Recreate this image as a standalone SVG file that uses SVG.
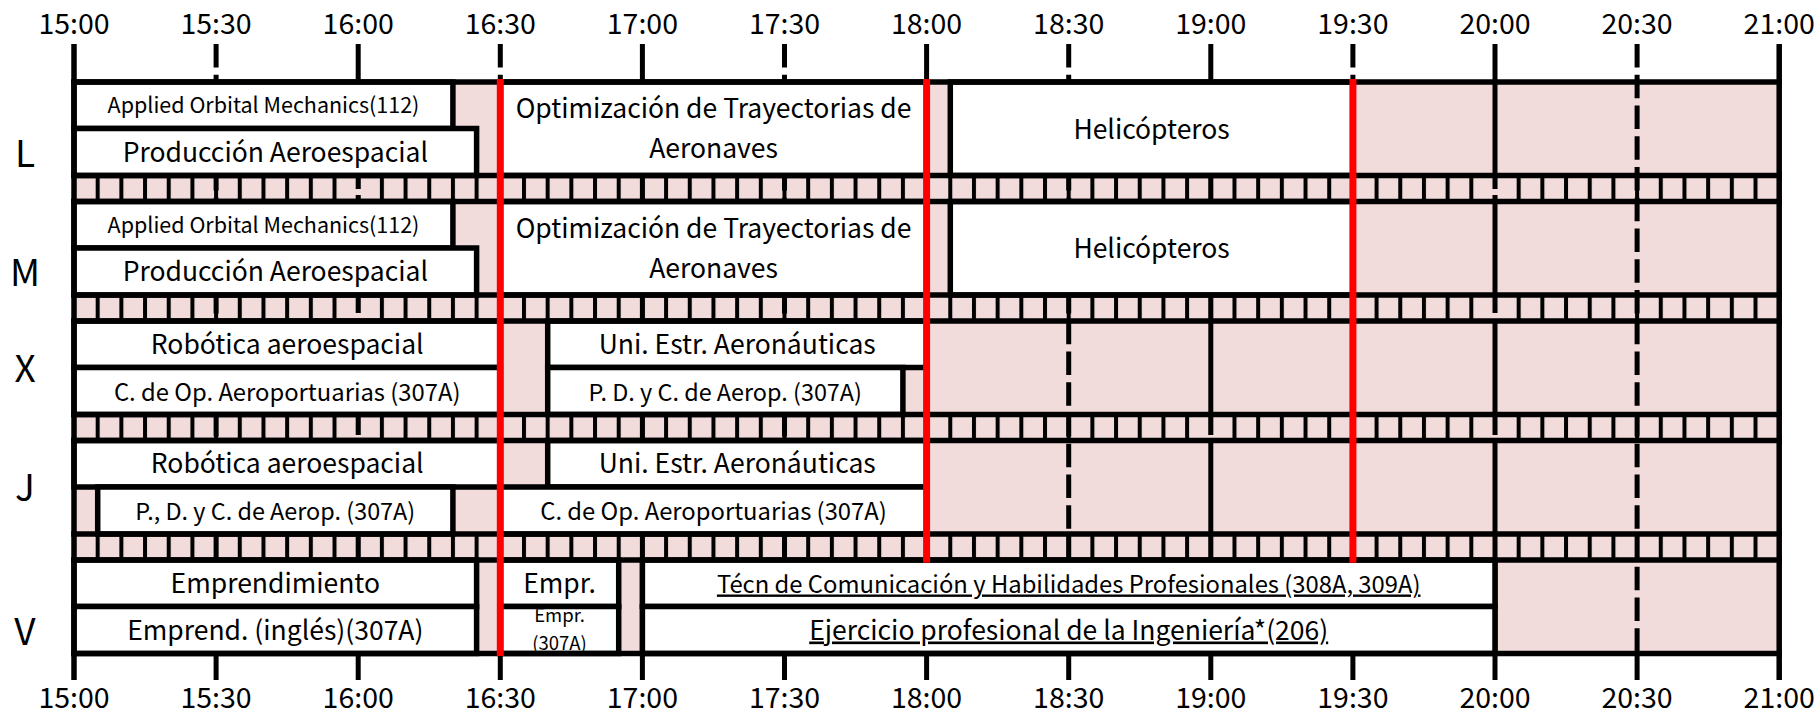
<svg xmlns="http://www.w3.org/2000/svg" width="1815" height="713" viewBox="0 0 1815 713">
<defs>
<style>
text { font-family: "Noto Sans CJK JP", "Noto Sans", sans-serif; fill:#000; text-anchor: middle; }
.t30 { font-size:26.5px; }
.t27 { font-size:23.8px; }
.t26 { font-size:23.4px; }
.t24 { font-size:21.5px; }
.t21 { font-size:18.5px; }
.time { font-size:28.5px; }
.day { font-size:37px; }
.box { fill:#fff; stroke:#000; stroke-width:5.5; }
.hl { stroke:#000; stroke-width:5.5; }
.hr { stroke:#000; stroke-width:5; fill:none; }
.hh { stroke:#000; stroke-width:5; stroke-dasharray:23.5 7.25; fill:none; }
.bd { stroke:#000; stroke-width:5.5; }
.red { stroke:#ff0000; stroke-width:7; }
.gap { fill:#f2dcdb; }
.band { fill:url(#div5); }
.u { text-decoration:underline; }
</style>
<pattern id="div5" patternUnits="userSpaceOnUse" x="72" y="0" width="23.6833" height="713"><rect x="0" y="0" width="4" height="713" fill="#000"/></pattern>
<clipPath id="clipEmpr"><rect x="503" y="609.3" width="113" height="41.4"/></clipPath>
</defs>
<rect x="0" y="0" width="1815" height="713" fill="#fff"/>
<rect id="grid-bg" x="74" y="82" width="1705.2" height="571.5" fill="#f2dcdb"/>
<g id="bands">
<rect class="band" x="74" y="175.5" width="1705.2" height="26"/>
<rect class="band" x="74" y="295" width="1705.2" height="26"/>
<rect class="band" x="74" y="414.5" width="1705.2" height="26"/>
<rect class="band" x="74" y="534" width="1705.2" height="26"/>
</g>
<g id="gridlines">
<path class="hh" d="M216.1 44V653.5M500.3 44V653.5M784.5 44V653.5M1068.7 44V653.5M1352.9 44V653.5M1637.1 44V653.5"/>
<path class="hr" d="M358.2 44V653.5M642.4 44V653.5M926.6 44V653.5M1210.8 44V653.5M1495 44V653.5"/>
<rect class="gap" x="354.7" y="189" width="7" height="6"/>
<rect class="gap" x="354.7" y="313" width="7" height="6"/>
<rect class="gap" x="354.7" y="435" width="7" height="4"/>
<rect class="gap" x="1491.5" y="189" width="7" height="6"/>
<rect class="gap" x="1491.5" y="313" width="7" height="6"/>
<rect class="gap" x="1491.5" y="435" width="7" height="4"/>
<rect class="gap" x="1207.3" y="435" width="7" height="4"/>
<path class="hr" d="M216.1 653.5V680M358.2 653.5V680M500.3 653.5V680M642.4 653.5V680M784.5 653.5V680M926.6 653.5V680M1068.7 653.5V680M1210.8 653.5V680M1352.9 653.5V680M1495 653.5V680M1637.1 653.5V680"/>
</g>
<g id="row-L">
<g id="L-applied"><rect class="box" x="74" y="82" width="378.9" height="46.5"/><text class="t24" x="263.5" y="113">Applied Orbital Mechanics(112)</text></g>
<g id="L-produccion"><rect class="box" x="74" y="128.5" width="402.6" height="47"/><text class="t30" x="275.3" y="161.5">Producción Aeroespacial</text></g>
<g id="L-optim"><rect class="box" x="500.3" y="82" width="426.3" height="93.5"/><text class="t30" x="713.5" y="118">Optimización de Trayectorias de</text><text class="t30" x="713.5" y="158">Aeronaves</text></g>
<g id="L-helic"><rect class="box" x="950.3" y="82" width="402.6" height="93.5"/><text class="t30" x="1151.6" y="138.5">Helicópteros</text></g>
</g>
<g id="row-M">
<g id="M-applied"><rect class="box" x="74" y="201.5" width="378.9" height="46.5"/><text class="t24" x="263.5" y="232.5">Applied Orbital Mechanics(112)</text></g>
<g id="M-produccion"><rect class="box" x="74" y="248" width="402.6" height="47"/><text class="t30" x="275.3" y="281">Producción Aeroespacial</text></g>
<g id="M-optim"><rect class="box" x="500.3" y="201.5" width="426.3" height="93.5"/><text class="t30" x="713.5" y="237.5">Optimización de Trayectorias de</text><text class="t30" x="713.5" y="277.5">Aeronaves</text></g>
<g id="M-helic"><rect class="box" x="950.3" y="201.5" width="402.6" height="93.5"/><text class="t30" x="1151.6" y="258">Helicópteros</text></g>
</g>
<g id="row-X">
<g id="X-robotica"><rect class="box" x="74" y="321" width="426.3" height="46.5"/><text class="t30" x="287.2" y="353.5">Robótica aeroespacial</text></g>
<g id="X-cdeop"><rect class="box" x="74" y="367.5" width="426.3" height="47"/><text class="t27" x="287.2" y="400.5">C. de Op. Aeroportuarias (307A)</text></g>
<g id="X-uni"><rect class="box" x="547.7" y="321" width="378.9" height="46.5"/><text class="t30" x="737.2" y="353.5">Uni. Estr. Aeronáuticas</text></g>
<g id="X-pdyc"><rect class="box" x="547.7" y="367.5" width="355.2" height="47"/><text class="t26" x="725.3" y="400.5">P. D. y C. de Aerop. (307A)</text></g>
</g>
<g id="row-J">
<g id="J-robotica"><rect class="box" x="74" y="440.5" width="426.3" height="46.5"/><text class="t30" x="287.2" y="473">Robótica aeroespacial</text></g>
<g id="J-uni"><rect class="box" x="547.7" y="440.5" width="378.9" height="46.5"/><text class="t30" x="737.2" y="473">Uni. Estr. Aeronáuticas</text></g>
<g id="J-pdyc"><rect class="box" x="97.7" y="487" width="355.2" height="47"/><text class="t26" x="275.3" y="520">P., D. y C. de Aerop. (307A)</text></g>
<g id="J-cdeop"><rect class="box" x="500.3" y="487" width="426.3" height="47"/><text class="t27" x="713.5" y="520">C. de Op. Aeroportuarias (307A)</text></g>
</g>
<g id="row-V">
<g id="V-empr"><rect class="box" x="74" y="560" width="402.6" height="46.5"/><text class="t30" x="275.3" y="592.5">Emprendimiento</text></g>
<g id="V-emprend"><rect class="box" x="74" y="606.5" width="402.6" height="47"/><text class="t30" x="275.3" y="639.5">Emprend. (inglés)(307A)</text></g>
<g id="V-empr2"><rect class="box" x="500.3" y="560" width="118.4" height="46.5"/><text class="t30" x="559.5" y="592.5">Empr.</text></g>
<g id="V-empr3"><rect class="box" x="500.3" y="606.5" width="118.4" height="47"/><g clip-path="url(#clipEmpr)"><text class="t21" x="559.5" y="621.5">Empr.</text><text class="t21" x="559.5" y="649.5">(307A)</text></g></g>
<g id="V-tecn"><rect class="box" x="642.4" y="560" width="852.6" height="46.5"/><text class="t27 u" x="1068.7" y="592.5">Técn de Comunicación y Habilidades Profesionales (308A, 309A)</text></g>
<g id="V-ejer"><rect class="box" x="642.4" y="606.5" width="852.6" height="47"/><text class="t30 u" x="1068.7" y="639.5">Ejercicio profesional de la Ingeniería*(206)</text></g>
</g>
<g id="rowlines">
<path class="hl" d="M71.25 82H1781.95M71.25 175.5H1781.95M71.25 201.5H1781.95M71.25 295H1781.95M71.25 321H1781.95M71.25 414.5H1781.95M71.25 440.5H1781.95M71.25 534H1781.95M71.25 560H1781.95M71.25 653.5H1781.95"/>
<path class="bd" d="M74 44V680M1779.2 44V680"/>
</g>
<g id="red-lines">
<path class="red" d="M500.3 79V656M926.6 79V562.8M1352.9 79V562.8"/>
</g>
<g id="time-top">
<text class="time" x="74" y="34">15:00</text><text class="time" x="216.1" y="34">15:30</text><text class="time" x="358.2" y="34">16:00</text><text class="time" x="500.3" y="34">16:30</text><text class="time" x="642.4" y="34">17:00</text><text class="time" x="784.5" y="34">17:30</text><text class="time" x="926.6" y="34">18:00</text><text class="time" x="1068.7" y="34">18:30</text><text class="time" x="1210.8" y="34">19:00</text><text class="time" x="1352.9" y="34">19:30</text><text class="time" x="1495" y="34">20:00</text><text class="time" x="1637.1" y="34">20:30</text><text class="time" x="1779.2" y="34">21:00</text>
</g>
<g id="time-bottom">
<text class="time" x="74" y="708">15:00</text><text class="time" x="216.1" y="708">15:30</text><text class="time" x="358.2" y="708">16:00</text><text class="time" x="500.3" y="708">16:30</text><text class="time" x="642.4" y="708">17:00</text><text class="time" x="784.5" y="708">17:30</text><text class="time" x="926.6" y="708">18:00</text><text class="time" x="1068.7" y="708">18:30</text><text class="time" x="1210.8" y="708">19:00</text><text class="time" x="1352.9" y="708">19:30</text><text class="time" x="1495" y="708">20:00</text><text class="time" x="1637.1" y="708">20:30</text><text class="time" x="1779.2" y="708">21:00</text>
</g>
<g id="days">
<text class="day" x="25" y="167">L</text><text class="day" x="25" y="286">M</text><text class="day" x="25" y="382">X</text><text class="day" x="25" y="501">J</text><text class="day" x="25" y="645">V</text>
</g>
</svg>
